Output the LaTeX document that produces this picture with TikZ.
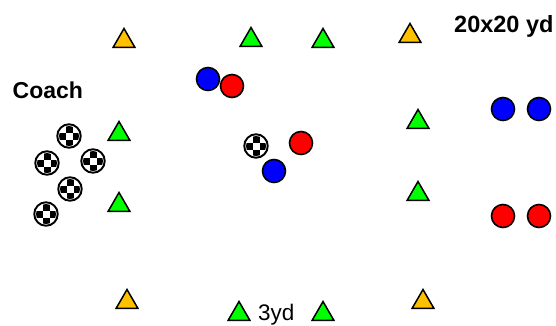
\documentclass[tikz,border=0pt]{standalone}
\usepackage{fontspec}
\setmainfont{Liberation Sans}
\usetikzlibrary{shapes.geometric}
\definecolor{cgreen}{HTML}{00FF00}
\definecolor{cyellow}{HTML}{FFC000}
\definecolor{cblue}{HTML}{0000FF}
\definecolor{cred}{HTML}{FF0000}
\tikzset{
  cone/.style={regular polygon, regular polygon sides=3, minimum size=25pt, inner sep=0pt, draw=black, line width=1.5pt},
  gcone/.style={cone, fill=cgreen},
  ycone/.style={cone, fill=cyellow},
  player/.style={circle, minimum size=23pt, inner sep=0pt, draw=black, line width=1.6pt},
  bplayer/.style={player, fill=cblue},
  rplayer/.style={player, fill=cred},
  ball/.style={circle, minimum size=23.5pt, inner sep=0pt, fill=white, draw=black, line width=1.9pt,
    path picture={
      \begin{scope}[shift={(path picture bounding box.center)}]
        \clip (0,0) circle (10pt);
        \foreach \i in {-2,...,2} { \foreach \j in {-2,...,2} {
          \pgfmathtruncatemacro\chkpar{mod(\i+\j+4,2)}
          \ifnum\chkpar=1 \fill[black] (\i*7pt-3.5pt,\j*7pt-3.5pt) rectangle ++(7pt,7pt); \fi
        }}
      \end{scope}
    }},
  lbl/.style={inner sep=0pt, anchor=base west}
}
\begin{document}
\begin{tikzpicture}[x=1pt,y=-1pt]
\useasboundingbox (0,0) rectangle (556,325);
% yellow cones
\node[ycone] (y1) at (124,41) {};
\node[ycone] (y2) at (410,36) {};
\node[ycone] (y3) at (127,302) {};
\node[ycone] (y4) at (423,302) {};
% green cones
\node[gcone] (g1) at (251,40) {};
\node[gcone] (g2) at (323,41) {};
\node[gcone] (g3) at (119,134) {};
\node[gcone] (g4) at (418,122) {};
\node[gcone] (g5) at (119,205) {};
\node[gcone] (g6) at (418,194) {};
\node[gcone] (g7) at (239,314) {};
\node[gcone] (g8) at (323,314) {};
% players
\node[bplayer] (b1) at (208,79) {};
\node[rplayer] (r1) at (232,86) {};
\node[rplayer] (r2) at (301,143) {};
\node[bplayer] (b2) at (274,171) {};
\node[bplayer] (b3) at (503,109) {};
\node[bplayer] (b4) at (539,109) {};
\node[rplayer] (r3) at (503,216) {};
\node[rplayer] (r4) at (539,216) {};
% balls
\node[ball] (k0) at (256,146) {};
\node[ball] (k1) at (69,136) {};
\node[ball] (k2) at (47,163) {};
\node[ball] (k3) at (93,161) {};
\node[ball] (k4) at (70,189) {};
\node[ball] (k5) at (46,214) {};
% labels
\node[lbl, font=\bfseries\fontsize{23}{27}\selectfont] (coach) at (12.5,98.5) {Coach};
\node[lbl, font=\bfseries\fontsize{23.5}{27}\selectfont] (size) at (454,32) {20x20 yd};
\node[lbl, font=\fontsize{22.5}{27}\selectfont] (dist) at (258,320) {3yd};
\end{tikzpicture}
\end{document}
